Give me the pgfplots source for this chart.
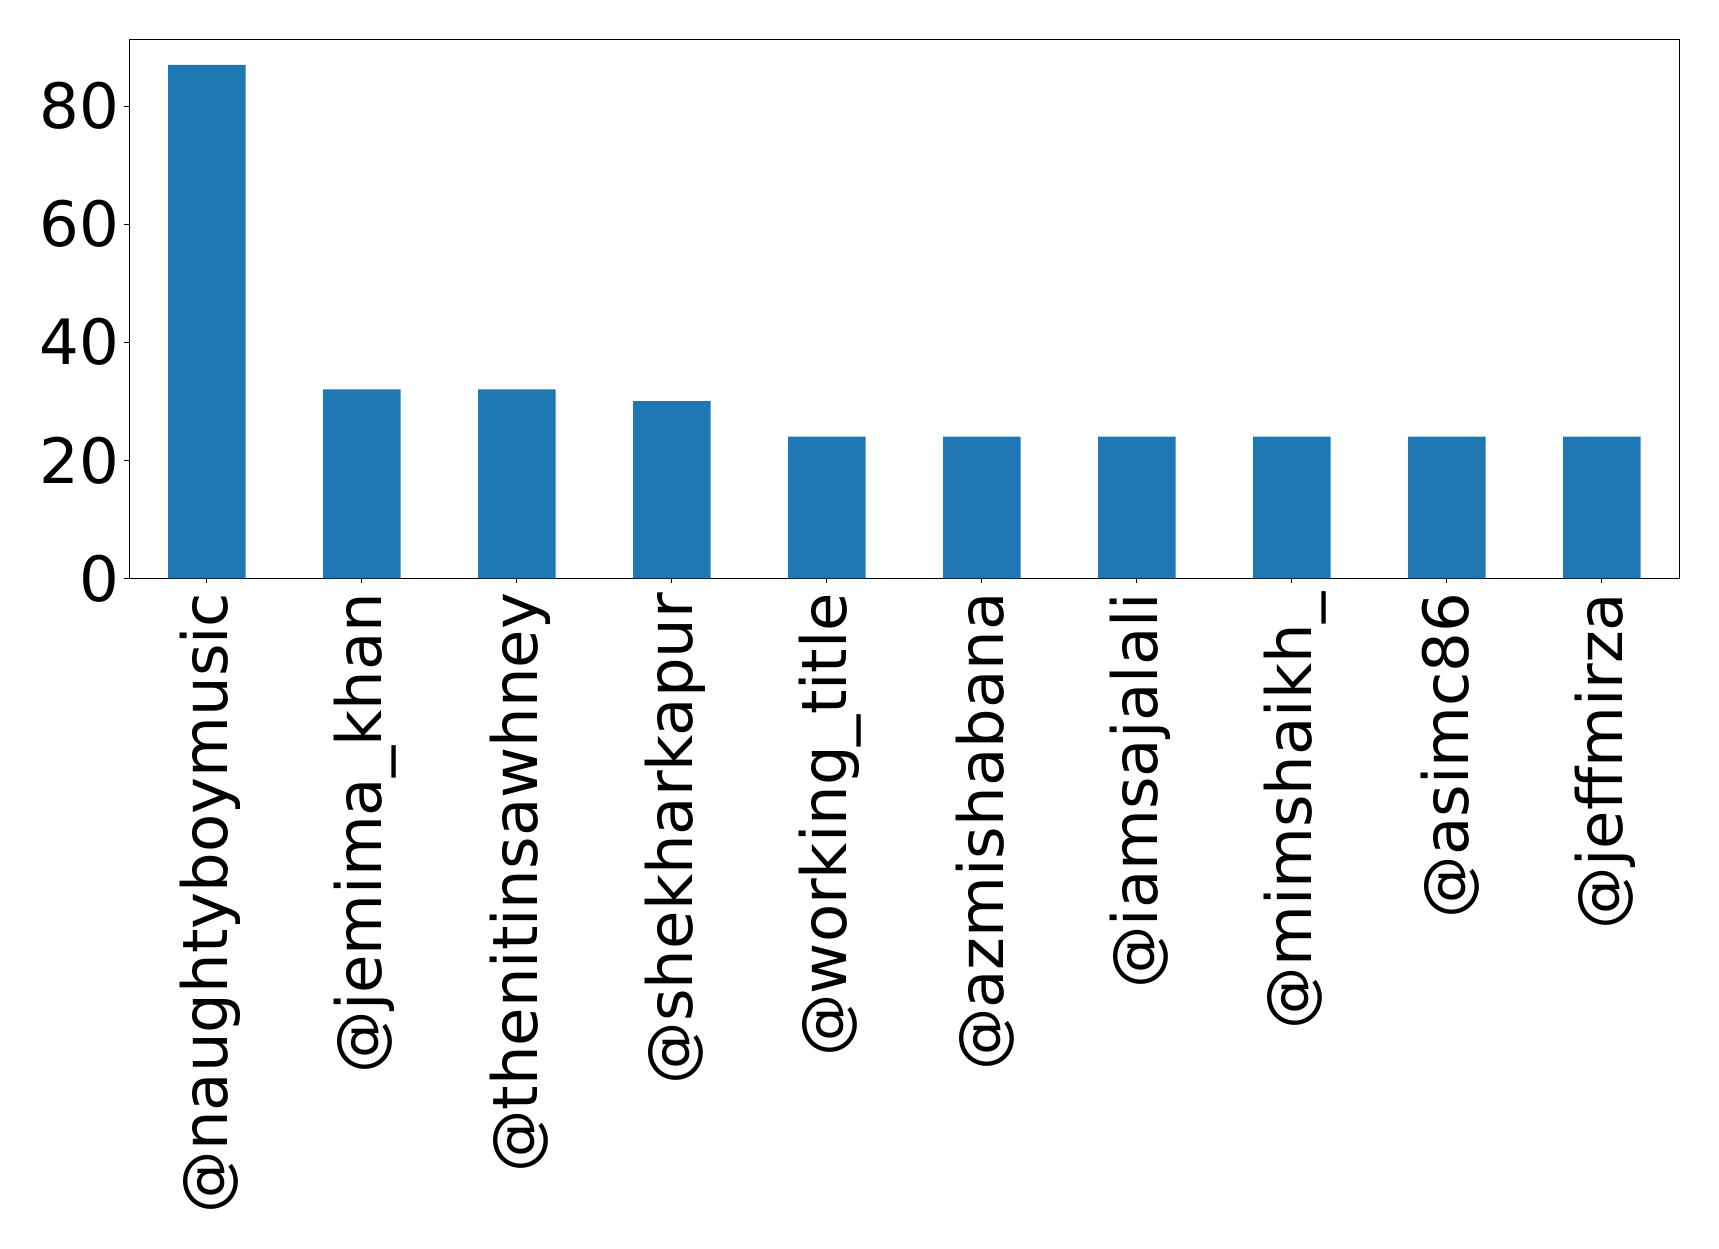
\documentclass[border=0pt]{standalone}
\usepackage{fontspec}
\setmainfont{DejaVu Sans}
\usepackage{pgfplots}
\pgfplotsset{compat=1.18}
\definecolor{barblue}{RGB}{31,119,180}

\begin{document}
\begin{tikzpicture}
\begin{axis}[
  at={(0,0)}, anchor=south west,
  scale only axis,
  width=775pt, height=269.6pt,
  xmin=-0.5, xmax=9.5,
  ymin=0, ymax=91.35,
  axis line style={line width=0.56pt},
  tick style={line width=0.56pt, black},
  major tick length=2.43pt,
  tick align=outside,
  xtick pos=bottom, ytick pos=left,
  xtick={0,1,2,3,4,5,6,7,8,9},
  xticklabels={@naughtyboymusic,@jemima\_khan,@thenitinsawhney,@shekharkapur,@working\_title,@azmishabana,@iamsajalali,@mimshaikh\_,@asimc86,@jeffmirza},
  ytick={0,20,40,60,80},
  /pgf/number format/assume math mode=true,
  ticklabel style={font=\fontsize{31.25}{31.25}\selectfont},
  xticklabel style={rotate=90, anchor=east, inner sep=0pt, xshift=-4.6pt, yshift=-1.6pt},
  yticklabel style={inner sep=0pt, xshift=-2.5pt},
  clip=false,
]
\addplot[ybar, bar width=0.5, fill=barblue, draw=none] coordinates {
  (0,87) (1,32) (2,32) (3,30) (4,24) (5,24) (6,24) (7,24) (8,24) (9,24)
};
\end{axis}
\pgfresetboundingbox
\path (-64.65pt,-334.85pt) rectangle (794.85pt,289.15pt);
\end{tikzpicture}
\end{document}
